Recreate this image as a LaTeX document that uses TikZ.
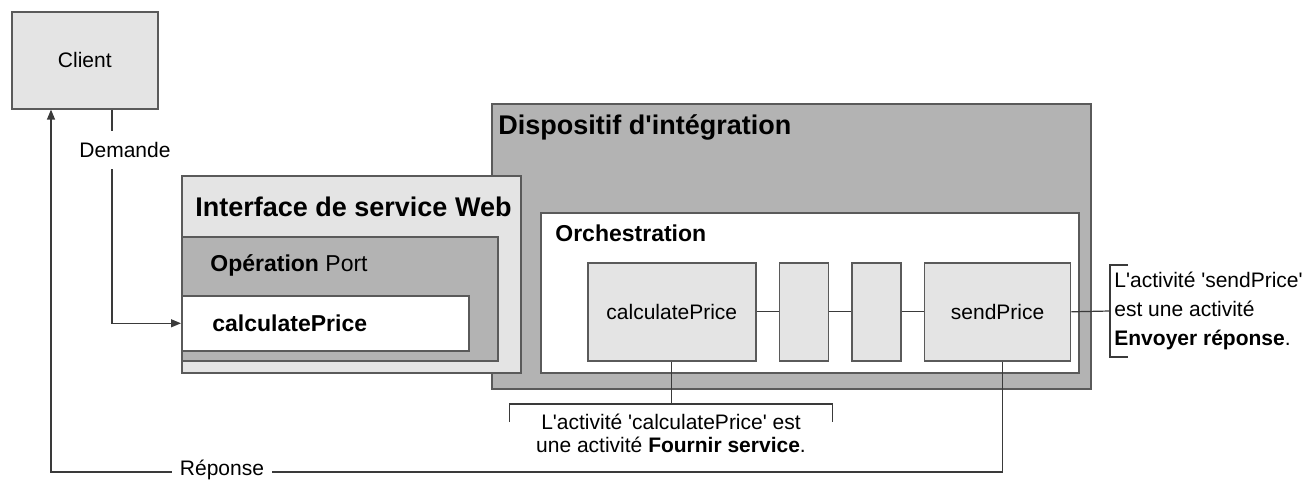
\documentclass[tikz,border=0pt]{standalone}
\usepackage{fontspec}
\setmainfont{Liberation Sans}[Ligatures=TeXOff]
\usetikzlibrary{positioning, arrows.meta}
\definecolor{boxLine}{HTML}{5A5A5A}
\definecolor{paleGrey}{HTML}{E4E4E4}
\definecolor{midGrey}{HTML}{B3B3B3}
\definecolor{wireDark}{HTML}{3A3A3A}

\begin{document}
\begin{tikzpicture}[x=0.5pt, y=-0.5pt, font=\fontsize{10.5}{13}\selectfont,
    frame/.style={draw=boxLine, line width=0.8pt, anchor=north west, inner sep=0pt},
    title/.style={anchor=west, inner sep=0pt, font=\fontsize{13.5}{16}\selectfont\bfseries},
    subtitle/.style={anchor=west, inner sep=0pt, font=\fontsize{11.5}{14}\selectfont\bfseries},
    wire/.style={draw=wireDark, line width=0.6pt},
    tip/.style={wire, -{Triangle[length=5pt, width=4pt]}}]
  \useasboundingbox (0,0) rectangle (1313,481);
  % client
  \node[frame, fill=paleGrey, minimum width=73pt, minimum height=48.5pt] (client) at (11,11) {Client};
  % integration device and orchestration
  \node[frame, fill=midGrey, minimum width=299.5pt, minimum height=142.5pt] (disp) at (491,103) {};
  \node[title] (dispt) at (498,127) {Dispositif d'intégration};
  \node[frame, fill=white, minimum width=269pt, minimum height=80pt] (orch) at (540,212) {};
  \node[subtitle] (orcht) at (555,233) {Orchestration};
  \node[frame, fill=paleGrey, minimum width=84pt, minimum height=49pt] (calc) at (587,262) {calculatePrice};
  \node[frame, fill=paleGrey, minimum width=24.5pt, minimum height=49pt, right=11pt of calc] (stepa) {};
  \node[frame, fill=paleGrey, minimum width=24.5pt, minimum height=49pt, right=11pt of stepa] (stepb) {};
  \node[frame, fill=paleGrey, minimum width=73pt, minimum height=49pt, right=11pt of stepb] (send) {sendPrice};
  % web service interface
  \node[frame, fill=paleGrey, minimum width=169.5pt, minimum height=98.5pt] (iface) at (181,175) {};
  \node[title] (ifacet) at (195,207) {Interface de service Web};
  \node[frame, fill=midGrey, minimum width=158pt, minimum height=62pt] (oper) at (181,236) {};
  \node[subtitle] (opert) at (210,265) {Opération \textmd{Port}};
  \node[frame, fill=white, minimum width=143.5pt, minimum height=27.5pt] (cpop) at (181,295) {};
  \node[subtitle] (cpopt) at (212,323) {calculatePrice};
  % request and response
  \coordinate (dem) at (112,0);
  \coordinate (rep) at (51,472);
  \draw[tip] (client.south -| dem) -- (dem |- cpop.west) -- (cpop.west);
  \node[fill=white, inner xsep=2pt, inner ysep=5.5pt] (demt) at (125,150) {Demande};
  \draw[tip] ([xshift=2.5pt]send.south) |- (rep) -- (client.south -| rep);
  \node[fill=white, inner xsep=4pt, inner ysep=1pt] (rept) at (222,470) {Réponse};
  \draw[wire] (calc.east) -- (stepa.west) (stepa.east) -- (stepb.west) (stepb.east) -- (send.west);
  % notes
  \node[anchor=north, minimum width=161pt, align=center, inner ysep=5pt,
        font=\fontsize{10.5}{11.5}\selectfont] (calcnote) at (671,404)
    {L'activité 'calculatePrice' est\\une activité \textbf{Fournir service}.};
  \draw[wire] ([yshift=-9pt]calcnote.north west) -- (calcnote.north west) -- (calcnote.north east) -- ++(0,-9pt);
  \draw[wire] (calc.south) -- (calc.south |- calcnote.north);
  \node[anchor=west, align=left, minimum height=42pt, inner xsep=2pt,
        font=\fontsize{10.5}{14.5}\selectfont] (sendnote) at (1110,311)
    {L'activité 'sendPrice'\\est une activité\\\textbf{Envoyer réponse}.};
  \draw[wire] ([xshift=9pt]sendnote.north west) -- (sendnote.north west) -- (sendnote.south west) -- ++(9pt,0);
  \draw[wire] (send.east) -- (sendnote.west);
\end{tikzpicture}
\end{document}
